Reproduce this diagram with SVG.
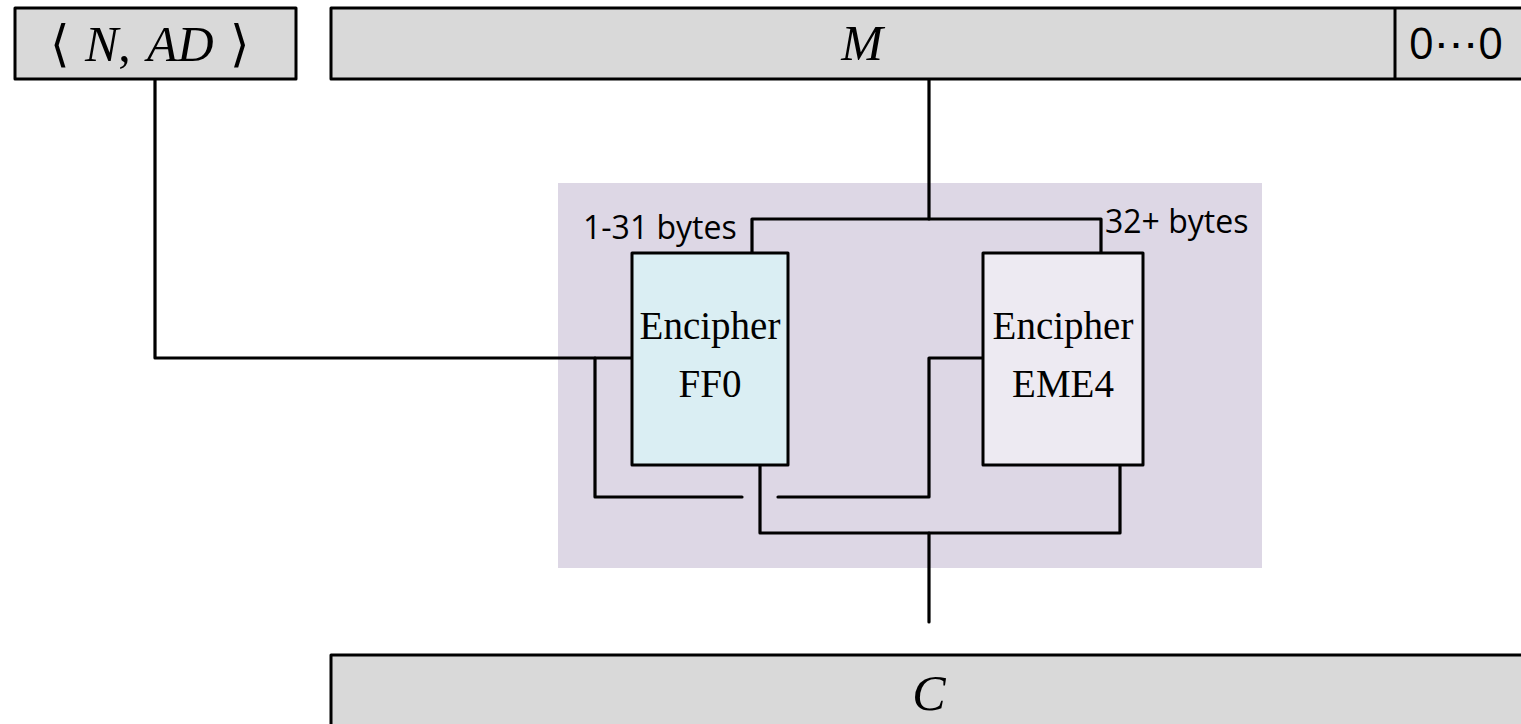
<svg xmlns="http://www.w3.org/2000/svg" width="1521" height="724" viewBox="0 0 1521 724">
<style>
.bar{fill:#D9D9D9;stroke:#000;stroke-width:3;stroke-linejoin:round}
.box{stroke:#000;stroke-width:3;stroke-linejoin:round}
.wire{fill:none;stroke:#000;stroke-width:3.2;stroke-linejoin:round;stroke-linecap:round}
.math{font-family:"Liberation Serif","Times New Roman",serif;font-size:50px;font-style:italic;fill:#000}
.up{font-family:"Liberation Serif","Times New Roman",serif;font-size:50px;fill:#000}
.serif{font-family:"Liberation Serif","Times New Roman",serif;font-size:39px;text-anchor:middle;fill:#000}
.sans{font-family:"Open Sans","Noto Sans",sans-serif;font-size:32px;fill:#000}
</style>
<rect x="0" y="0" width="1521" height="724" fill="#FFFFFF"/>
<g id="bg-panel">
<rect x="558" y="183" width="704" height="385" fill="#DDD7E5"/>
</g>
<g id="connectors">
<path class="wire" d="M155,79 V358 H632"/>
<path class="wire" d="M929,79 V219"/>
<path class="wire" d="M752,253 V219 H1101 V253"/>
<path class="wire" d="M595,358 V497 H742"/>
<path class="wire" d="M778,497 H929 V358 H983"/>
<path class="wire" d="M760,465 V533 H1120 V465"/>
<path class="wire" d="M929,533 V622"/>
</g>
<g id="nad">
<rect class="bar" x="15" y="8" width="281" height="71"/>
<text class="up" x="60" y="61" text-anchor="middle">⟨</text>
<text class="math" x="85" y="61">N<tspan font-style="normal">,</tspan></text>
<text class="math" x="147" y="61">AD</text>
<text class="up" x="240" y="61" text-anchor="middle">⟩</text>
</g>
<g id="m">
<rect class="bar" x="331" y="8" width="1200" height="71"/>
<text class="math" x="862" y="60" text-anchor="middle">M</text>
</g>
<g id="pad">
<line x1="1395" y1="8" x2="1395" y2="79" stroke="#000" stroke-width="3"/>
<text x="1456" y="59" font-family="'Open Sans','Noto Sans',sans-serif" font-size="44" text-anchor="middle">0⋯0</text>
</g>
<g id="ff0">
<rect class="box" x="632" y="253" width="156" height="212" fill="#DAEEF3"/>
<text class="serif" x="710" y="339">Encipher</text>
<text class="serif" x="710" y="397">FF0</text>
</g>
<g id="eme4">
<rect class="box" x="983" y="253" width="160" height="212" fill="#EDEAF2"/>
<text class="serif" x="1063" y="339">Encipher</text>
<text class="serif" x="1063" y="397">EME4</text>
</g>
<g id="labels">
<text class="sans" x="583" y="239">1-31 bytes</text>
<text class="sans" x="1105" y="233">32+ bytes</text>
</g>
<g id="c">
<rect class="bar" x="331" y="655" width="1200" height="80"/>
<text class="math" x="929" y="710" text-anchor="middle">C</text>
</g>
</svg>
